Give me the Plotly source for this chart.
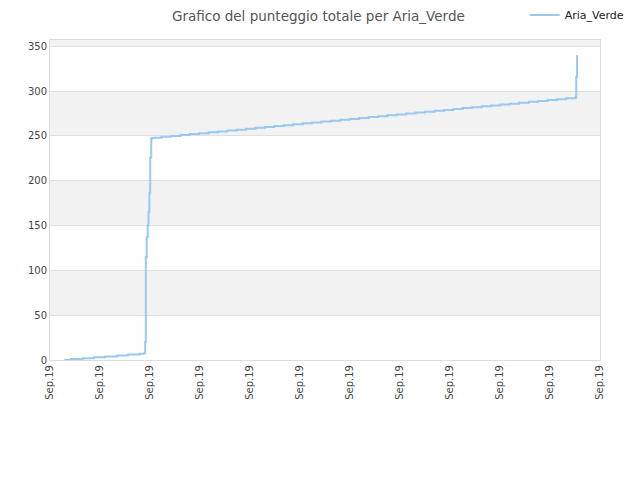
import pandas as pd
import plotly.graph_objects as go

# hours since 2019-09-01 00:00 and cumulative score
hours = [
    6.9, 10.1, 15.7, 21.1, 26.4, 32.0, 37.3, 42.9, 45.3,
    45.7, 46.0, 46.4, 46.9, 47.3, 47.7, 48.1, 48.6,
    49.0, 53.5, 58.0, 62.5, 67.0, 71.6, 76.1, 80.6, 85.1, 89.6,
    94.2, 98.7, 103.2, 107.7, 112.2, 116.8, 121.3, 125.8, 130.3, 134.9,
    139.4, 143.9, 148.4, 152.9, 157.5, 162.0, 166.5, 171.0, 175.5, 180.0,
    184.6, 189.1, 193.6, 198.1, 202.6, 207.2, 211.7, 216.2, 220.7, 225.2,
    229.8, 234.3, 238.8, 243.3, 247.8, 252.4,
    252.6, 253.0,
]
scores = [
    0, 1, 2, 3, 4, 5, 6, 7, 8,
    20, 115, 137, 150, 165, 186, 226, 247,
    248, 249, 250, 251, 252, 253, 254, 255, 256, 257,
    258, 259, 260, 261, 262, 263, 264, 265, 266, 267,
    268, 269, 270, 271, 272, 273, 274, 275, 276, 277,
    278, 279, 280, 281, 282, 283, 284, 285, 286, 287,
    288, 289, 290, 291, 292, 293,
    316, 340,
]
player = "Aria_Verde"

times = pd.Timestamp("2019-09-01") + pd.to_timedelta(hours, unit="h")

fig = go.Figure()
fig.add_trace(go.Scatter(
    x=times, y=scores, mode="lines", name=player,
    line=dict(color="#99c8f3", width=2, shape="hv"),
))

# alternating horizontal bands
bands = []
for lo in [50, 150, 250, 350]:
    bands.append(dict(type="rect", xref="paper", yref="y", x0=0, x1=1,
                      y0=lo, y1=min(lo + 50, 357), fillcolor="#f2f2f2",
                      line_width=0, layer="below"))

# the page body adds an 8px offset, so margins are shifted to compensate
fig.update_layout(
    width=640, height=480,
    margin=dict(l=42, r=48, t=32, b=128, autoexpand=False),
    paper_bgcolor="white", plot_bgcolor="white",
    font=dict(family="DejaVu Sans", size=10, color="#444"),
    title=dict(text="Grafico del punteggio totale per " + player,
               x=0.485, xanchor="center", y=1 - 8.5 / 480, yanchor="middle",
               yref="container", font=dict(size=13.5, color="#555")),
    showlegend=True,
    legend=dict(x=1.054, y=1 - 7 / 480, xanchor="right", yanchor="middle",
                yref="container", font=dict(size=11, color="#222"),
                bgcolor="rgba(0,0,0,0)"),
    shapes=bands,
)
fig.update_xaxes(
    type="date", range=["2019-09-01", "2019-09-12"],
    tick0="2019-09-01", dtick=86400000, tickformat="%b.%y",
    tickangle=-90, showgrid=False, zeroline=False, automargin=False,
    showline=True, linecolor="#dddddd", mirror=True,
    ticks="", tickfont=dict(size=10, color="#444"),
)
fig.update_yaxes(
    range=[0, 357], dtick=50, showgrid=True, gridcolor="#e0e0e0",
    zeroline=False, showline=True, linecolor="#dddddd", mirror=True,
    automargin=False, ticks="", tickfont=dict(size=10, color="#444"),
)

fig.write_html("out.html")
